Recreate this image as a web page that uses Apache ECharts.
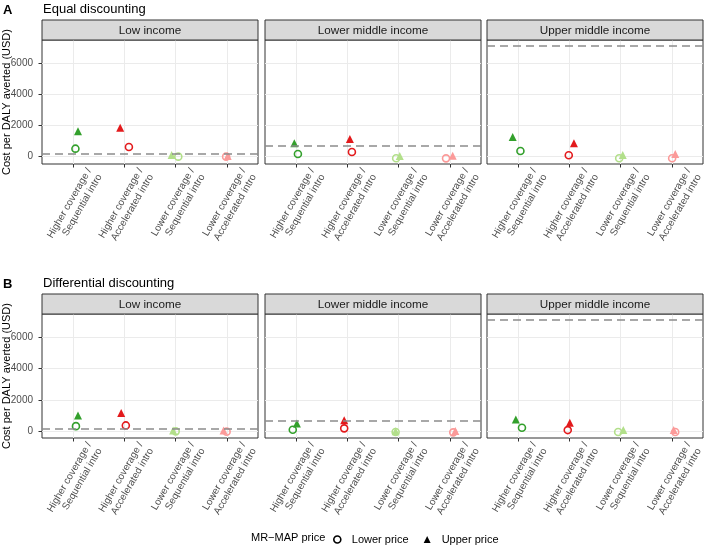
<!DOCTYPE html>
<html><head><meta charset="utf-8">
<script src="https://cdn.jsdelivr.net/npm/echarts@6/dist/echarts.min.js"></script>
<style>html,body{margin:0;padding:0;background:#fff}#c{width:704px;height:547px}</style>
</head><body><div id="c"></div>
<script>
// ---------- data ----------
const categories = [
  'Higher coverage / Sequential intro',
  'Higher coverage / Accelerated intro',
  'Lower coverage / Sequential intro',
  'Lower coverage / Accelerated intro'
];
const incomeGroups = ['Low income', 'Lower middle income', 'Upper middle income'];
const rowTags = ['A', 'B'];
const rowTitles = ['Equal discounting', 'Differential discounting'];
const thresholds = [180, 700, 7100];          // dashed reference line per income group
const yTicks = [0, 2000, 4000, 6000];
const pointColors = ['#33a02c', '#e31a1c', '#b2df8a', '#fb9a99'];
const priceLevels = ['Lower price', 'Upper price'];
const legendTitle = 'MR\u2212MAP price';
const yTitle = 'Cost per DALY averted (USD)';

// A: equal discounting, per income group, per category
const equalLower = [[510, 620, 0, 0], [170, 300, -100, -110], [364, 90, -100, -100]];
const equalUpper = [[1620, 1850, 100, 40], [855, 1130, 45, 60], [1257, 855, 110, 170]];
// B: differential discounting
const diffLower = [[350, 395, 20, 0], [125, 210, -20, -45], [250, 100, -20, -20]];
const diffUpper = [[1020, 1190, 80, 80], [520, 730, 20, 40], [770, 560, 100, 100]];
// horizontal jitter (category units)
const equalLowerJit = [[0.05, 0.09, 0.05, -0.02], [0.04, 0.09, -0.05, -0.08], [0.05, -0.01, -0.03, 0.00]];
const equalUpperJit = [[0.10, -0.08, -0.08, 0.01], [-0.03, 0.05, 0.02, 0.05], [-0.10, 0.09, 0.04, 0.06]];
const diffLowerJit = [[0.06, 0.03, 0.00, -0.01], [-0.06, -0.06, -0.06, 0.06], [0.08, -0.03, -0.05, 0.06]];
const diffUpperJit = [[0.10, -0.06, -0.05, -0.07], [0.02, -0.06, -0.06, 0.10], [-0.04, 0.01, 0.05, 0.03]];

const rows = [
  {lower: equalLower, upper: equalUpper, lowerJit: equalLowerJit, upperJit: equalUpperJit},
  {lower: diffLower, upper: diffUpper, lowerJit: diffLowerJit, upperJit: diffUpperJit}
];

// ---------- layout ----------
const FONT = '"Liberation Sans", Arial, Helvetica, sans-serif';
const colLeft = [42, 265, 487];
const colWidth = 216;
const rowTop = [40, 314];
const rowHeight = 124;
const stripH = 20;

const grids = [], xAxes = [], yAxes = [], series = [], graphics = [];

rows.forEach((row, r) => {
  const all = [].concat(...row.lower, ...row.upper, thresholds);
  const mn = Math.min(...all), mx = Math.max(...all), R = mx - mn;
  const yMin = mn - 0.05 * R, yMax = mx + 0.05 * R;

  graphics.push({type: 'text', left: 3, top: rowTop[r] - 36,
    style: {text: rowTags[r], font: 'bold 13px ' + FONT, fill: '#000'}});
  graphics.push({type: 'text', left: 43, top: rowTop[r] - 37,
    style: {text: rowTitles[r], font: '13px ' + FONT, fill: '#000'}});

  incomeGroups.forEach((g, c) => {
    const gi = grids.length;
    grids.push({left: colLeft[c], top: rowTop[r], width: colWidth, height: rowHeight,
      show: true, backgroundColor: '#fff', borderColor: '#333', borderWidth: 1,
      containLabel: false, outerBoundsMode: 'none'});
    graphics.push({type: 'rect', shape: {x: colLeft[c], y: rowTop[r] - stripH, width: colWidth, height: stripH},
      style: {fill: '#d9d9d9', stroke: '#333', lineWidth: 1}, z: 10});
    graphics.push({type: 'text', x: colLeft[c] + colWidth / 2, y: rowTop[r] - stripH / 2 + 0.5, z: 11,
      style: {text: g, font: '11.7px ' + FONT, fill: '#1a1a1a', align: 'center', verticalAlign: 'middle'}});

    xAxes.push({type: 'value', gridIndex: gi, min: -0.6, max: categories.length - 0.4,
      axisLine: {show: false, onZero: false},
      axisTick: {show: true, length: 3.5, lineStyle: {color: '#333'}, customValues: categories.map((_, i) => i)},
      splitLine: {show: true, lineStyle: {color: '#ebebeb', width: 1}},
      axisLabel: {show: true, customValues: categories.map((_, i) => i), rotate: 60, interval: 0,
        showMinLabel: true, showMaxLabel: true, hideOverlap: false,
        formatter: v => categories[Math.round(v)].replace(' / ', ' /\n'),
        fontFamily: FONT, fontSize: 10, lineHeight: 12, color: '#4d4d4d',
        align: 'right', verticalAlign: 'top', padding: [13, 0, 0, 0], margin: -4.5}
    });
    yAxes.push({type: 'value', gridIndex: gi, min: yMin, max: yMax,
      axisLine: {show: false, onZero: false},
      axisTick: {show: c === 0, length: 3.5, lineStyle: {color: '#333'}, customValues: yTicks},
      splitLine: {show: true, lineStyle: {color: '#ebebeb', width: 1}},
      axisLabel: {show: c === 0, customValues: yTicks, showMinLabel: true, showMaxLabel: true,
        formatter: v => String(v),
        fontFamily: FONT, fontSize: 10, color: '#4d4d4d', margin: 9},
      name: c === 0 ? yTitle : '', nameLocation: 'middle', nameGap: 30, nameMoveOverlap: false,
      nameTextStyle: {fontFamily: FONT, fontSize: 11, color: '#000'}
    });

    series.push({
      name: priceLevels[0], type: 'scatter', xAxisIndex: gi, yAxisIndex: gi,
      symbol: 'circle', symbolSize: 7, z: 3,
      itemStyle: {color: 'rgba(0,0,0,0)', borderColor: '#000', borderWidth: 1.6, opacity: 1},
      data: row.lower[c].map((v, i) => ({value: [i + row.lowerJit[c][i], v],
        itemStyle: {color: 'rgba(0,0,0,0)', borderColor: pointColors[i], borderWidth: 1.6, opacity: 1}})),
      markLine: {silent: true, symbol: ['none', 'none'], label: {show: false},
        lineStyle: {color: '#8c8c8c', type: [8, 5], width: 1.6}, data: [{yAxis: thresholds[c]}]}
    });
    series.push({
      name: priceLevels[1], type: 'scatter', xAxisIndex: gi, yAxisIndex: gi,
      symbol: 'triangle', symbolSize: 8, z: 4,
      itemStyle: {color: '#000', opacity: 1},
      data: row.upper[c].map((v, i) => ({value: [i + row.upperJit[c][i], v],
        itemStyle: {color: pointColors[i], opacity: 1}}))
    });
  });
});

graphics.push({type: 'text', left: 251, top: 532,
  style: {text: legendTitle, font: '11px ' + FONT, fill: '#000'}});

const chart = echarts.init(document.getElementById('c'), null, {renderer: 'canvas'});
chart.setOption({
  animation: false,
  backgroundColor: '#fff',
  grid: grids, xAxis: xAxes, yAxis: yAxes, series: series,
  graphic: graphics,
  legend: {left: 328, top: 529, selectedMode: false, itemWidth: 7, itemHeight: 7, itemGap: 15,
    textStyle: {fontFamily: FONT, fontSize: 11, color: '#000', padding: [0, 0, 0, 6]},
    data: [
      {name: priceLevels[0], icon: 'circle', itemStyle: {color: 'rgba(0,0,0,0)', borderColor: '#000', borderWidth: 1.6}},
      {name: priceLevels[1], icon: 'triangle', itemStyle: {color: '#000'}}
    ]}
});
</script></body></html>
